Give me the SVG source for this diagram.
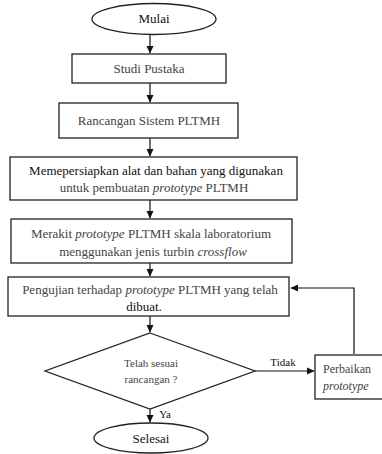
<svg xmlns="http://www.w3.org/2000/svg" width="382" height="454" viewBox="0 0 382 454">
<style>
.box{fill:#fff;stroke:#222;stroke-width:1.3}
.ln{fill:none;stroke:#111;stroke-width:1.2}
text{font-family:'Liberation Serif','Times New Roman',serif;font-size:13px;fill:#444;text-anchor:middle}
.k{fill:#111}
.s{font-size:11px}
.i{font-style:italic}
</style>
<defs>
<marker id="ah" markerWidth="8" markerHeight="8" refX="7" refY="4" orient="auto" markerUnits="userSpaceOnUse">
<path d="M0,0.5 L7.5,4 L0,7.5 Z" fill="#111"/>
</marker>
</defs>
<rect width="382" height="454" fill="#fff"/>
<g id="connectors">
<line class="ln" x1="150" y1="35" x2="150" y2="53" marker-end="url(#ah)"/>
<line class="ln" x1="150" y1="83" x2="150" y2="102" marker-end="url(#ah)"/>
<line class="ln" x1="150" y1="138" x2="150" y2="156" marker-end="url(#ah)"/>
<line class="ln" x1="150" y1="200" x2="150" y2="218" marker-end="url(#ah)"/>
<line class="ln" x1="150" y1="263" x2="150" y2="276" marker-end="url(#ah)"/>
<line class="ln" x1="150" y1="316" x2="150" y2="332" marker-end="url(#ah)"/>
<line class="ln" x1="255" y1="371" x2="314" y2="371" marker-end="url(#ah)"/>
<line class="ln" x1="150" y1="409" x2="150" y2="422" marker-end="url(#ah)"/>
<polyline class="ln" points="354,354 354,288 291,288" marker-end="url(#ah)"/>
<text x="283" y="366" class="s k">Tidak</text>
<text x="165" y="418" class="s k">Ya</text>
</g>
<g id="start">
<ellipse class="box" cx="154" cy="19" rx="62" ry="15.5"/>
<text x="154" y="23" class="k">Mulai</text>
</g>
<g id="studi">
<rect class="box" x="72" y="54" width="154" height="29"/>
<text x="149" y="73">Studi Pustaka</text>
</g>
<g id="rancangan">
<rect class="box" x="59" y="103" width="179" height="35"/>
<text x="149" y="125">Rancangan Sistem PLTMH</text>
</g>
<g id="persiapan">
<rect class="box" x="10" y="157" width="287" height="43"/>
<text x="156" y="175" class="k">Memepersiapkan alat dan bahan yang digunakan</text>
<text x="154" y="192">untuk pembuatan <tspan class="i">prototype</tspan> PLTMH</text>
</g>
<g id="merakit">
<rect class="box" x="11" y="219" width="281" height="44"/>
<text x="151" y="238">Merakit <tspan class="i">prototype</tspan> PLTMH skala laboratorium</text>
<text x="153" y="256">menggunakan jenis turbin <tspan class="i">crossflow</tspan></text>
</g>
<g id="pengujian">
<rect class="box" x="8" y="277" width="281" height="39"/>
<text x="150" y="294">Pengujian terhadap <tspan class="i">prototype</tspan> PLTMH yang telah</text>
<text x="144" y="311" class="k">dibuat.</text>
</g>
<g id="decision">
<polygon class="box" points="150,333 255,371 150,409 45,371"/>
<text x="151" y="367" class="s">Telah sesuai</text>
<text x="151" y="383" class="s">rancangan ?</text>
</g>
<g id="perbaikan">
<rect class="box" x="315" y="355" width="72" height="44"/>
<text x="323" y="373" style="text-anchor:start;font-size:12px">Perbaikan</text>
<text x="323" y="390" class="i" style="text-anchor:start;font-size:12px">prototype</text>
</g>
<g id="end">
<ellipse class="box" cx="151" cy="438" rx="57" ry="15"/>
<text x="151" y="443" class="k">Selesai</text>
</g>
</svg>
